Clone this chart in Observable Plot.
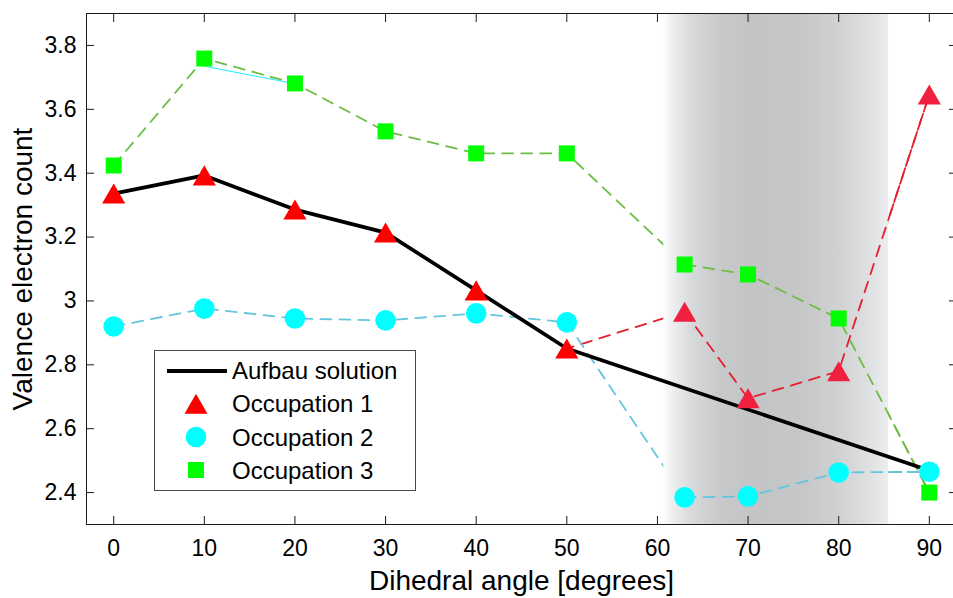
<!DOCTYPE html>
<html>
<head>
<meta charset="utf-8">
<script src="https://cdn.jsdelivr.net/npm/d3@7"></script>
<script src="https://cdn.jsdelivr.net/npm/@observablehq/plot@0.6"></script>
<style>
  html, body { margin: 0; padding: 0; background: white; overflow: hidden; }
  #wrap { position: relative; width: 953px; height: 598px; }
  #legend { position: absolute; left: 154px; top: 350px; width: 260px; height: 139px;
            border: 1px solid #4a4a4a; background: white; }
  #legend svg { display: block; font-family: "Liberation Sans", Arial, sans-serif; }
</style>
</head>
<body>
<div id="wrap"><div id="chart"></div><div id="legend"></div></div>
<script>
// ---- data ----
const angles = [0, 10, 20, 30, 40, 50, 63, 70, 80, 90];
const occupation1 = [3.336, 3.393, 3.286, 3.214, 3.033, 2.851, 2.966, 2.695, 2.780, 3.646];
const occupation2 = [2.920, 2.976, 2.945, 2.939, 2.961, 2.933, 2.385, 2.388, 2.463, 2.465];
const occupation3 = [3.424, 3.759, 3.681, 3.531, 3.462, 3.462, 3.114, 3.083, 2.945, 2.400];
const aufbauAngles = [0, 10, 20, 30, 40, 50, 90];
const aufbauValues = [3.336, 3.393, 3.286, 3.214, 3.033, 2.851, 2.469];
const extraAngles = [10, 20];
const extraValues = [3.735, 3.680];
const shadedBand = [60.7, 85.5];
const xTicks = [0, 10, 20, 30, 40, 50, 60, 70, 80, 90];
const xTickLabels = ["0", "10", "20", "30", "40", "50", "60", "70", "80", "90"];
const yTicks = [2.4, 2.6, 2.8, 3.0, 3.2, 3.4, 3.6, 3.8];
const yTickLabels = ["2.4", "2.6", "2.8", "3", "3.2", "3.4", "3.6", "3.8"];
const seriesNames = ["Aufbau solution", "Occupation 1", "Occupation 2", "Occupation 3"];
const xLabel = "Dihedral angle [degrees]";
const yLabel = "Valence electron count";

// ---- tables built from the arrays ----
const occ1 = angles.map((a, i) => ({angle: a, value: occupation1[i], late: a > 50}));
const occ2 = angles.map((a, i) => ({angle: a, value: occupation2[i], late: a > 50}));
const occ3 = angles.map((a, i) => ({angle: a, value: occupation3[i], late: a > 50}));
const aufbau = aufbauAngles.map((a, i) => ({angle: a, value: aufbauValues[i]}));
const extra = extraAngles.map((a, i) => ({angle: a, value: extraValues[i]}));
const band = [{x1: shadedBand[0], x2: shadedBand[1]}];

const RED = "#ff0000", RED2 = "#f0203e", REDDASH = "#e3202e";
const CYAN = "#00ffff", CYANDASH = "#63c6dc";
const GREEN = "#00ff00", GREENDASH = "#6cbd45";
const AX = "#1a1a1a";
const dash = "11,8";
const FONT = "Liberation Sans, Arial, Helvetica, sans-serif";

const chart = Plot.plot({
  width: 953,
  height: 598,
  marginLeft: 86,
  marginRight: -3,
  marginTop: 13,
  marginBottom: 74,
  x: {domain: [-3, 93]},
  y: {domain: [2.3, 3.9]},
  style: {fontFamily: FONT, background: "white", color: "black"},
  marks: [
    // bottom frame line (hidden by the shaded band)
    Plot.ruleY([2.3], {stroke: AX, strokeWidth: 1}),
    // dashed series, drawn beneath the band
    Plot.line(occ1, {x: "angle", y: "value", stroke: REDDASH, strokeWidth: 1.8, strokeDasharray: dash}),
    Plot.line(occ2, {x: "angle", y: "value", stroke: CYANDASH, strokeWidth: 1.8, strokeDasharray: dash}),
    Plot.line(occ3, {x: "angle", y: "value", stroke: GREENDASH, strokeWidth: 1.8, strokeDasharray: dash}),
    // shaded band
    Plot.rect(band, {x1: "x1", x2: "x2", y1: 2.3, y2: 3.9, fill: "url(#bandGrad)"}),
    // segments drawn above the band
    Plot.line(occ1, {filter: d => d.late, x: "angle", y: "value", stroke: REDDASH, strokeWidth: 1.8, strokeDasharray: dash}),
    Plot.line(occ2, {filter: d => d.late, x: "angle", y: "value", stroke: CYANDASH, strokeWidth: 1.8, strokeDasharray: dash}),
    Plot.line(occ3, {filter: d => d.late, x: "angle", y: "value", stroke: GREENDASH, strokeWidth: 1.8, strokeDasharray: dash}),
    Plot.line(extra, {x: "angle", y: "value", stroke: "#1ee8f8", strokeWidth: 1}),
    Plot.line(aufbau, {x: "angle", y: "value", stroke: "#000", strokeWidth: 3.7}),
    // markers
    Plot.dot(occ3, {x: "angle", y: "value", symbol: "square", r: 9.03, fill: GREEN}),
    Plot.dot(occ2, {x: "angle", y: "value", symbol: "circle", r: 10.3, fill: CYAN}),
    Plot.dot(occ1, {x: "angle", y: "value", symbol: "triangle", r: 8.6, dy: 3.3,
                    fill: d => d.late ? RED2 : RED}),
    // frame lines
    Plot.ruleY([3.9], {stroke: AX, strokeWidth: 1}),
    Plot.ruleX([-3], {stroke: AX, strokeWidth: 1}),
    // inward ticks
    Plot.axisX(xTicks, {anchor: "bottom", tickSize: -8, tickFormat: () => "", label: null, stroke: AX}),
    Plot.axisX(xTicks, {anchor: "top", tickSize: -8, tickFormat: () => "", label: null, stroke: AX}),
    Plot.axisY(yTicks, {anchor: "left", tickSize: -8, tickFormat: () => "", label: null, stroke: AX}),
    Plot.axisY(yTicks, {anchor: "right", tickSize: -8, tickFormat: () => "", label: null, stroke: AX}),
    // tick labels
    Plot.axisX(xTicks, {anchor: "bottom", tickSize: 0, tickPadding: 15, fontSize: 23, label: null,
                        tickFormat: d => xTickLabels[xTicks.indexOf(d)], fill: "black"}),
    Plot.axisY(yTicks, {anchor: "left", tickSize: 0, tickPadding: 10, fontSize: 23, label: null,
                        tickFormat: d => yTickLabels[yTicks.indexOf(d)], fill: "black"}),
    // axis titles
    Plot.text([xLabel], {frameAnchor: "bottom", dy: 57, fontSize: 28, fill: "black", lineAnchor: "middle"}),
    Plot.text([yLabel], {frameAnchor: "left", dx: -63, rotate: -90, fontSize: 28, fill: "black",
                         lineAnchor: "middle", textAnchor: "middle"})
  ]
});

// gradient for the shaded band
const svg = d3.select(chart);
const defs = svg.insert("defs", ":first-child");
const grad = defs.append("linearGradient").attr("id", "bandGrad")
  .attr("x1", "0").attr("x2", "1").attr("y1", "0").attr("y2", "0");
[[0, "#fdfdfd"], [0.04, "#eeeff0"], [0.12, "#d9dadc"], [0.25, "#c8c9cb"], [0.4, "#c3c4c6"],
 [0.62, "#c6c7c9"], [0.78, "#d0d1d3"], [0.9, "#dddee0"], [1, "#ecedee"]]
  .forEach(([o, c]) => grad.append("stop").attr("offset", o).attr("stop-color", c));

document.getElementById("chart").appendChild(chart);

// legend (drawn inside the plot area)
const lg = d3.select("#legend").append("svg").attr("width", 260).attr("height", 139);
lg.append("line").attr("x1", 12).attr("x2", 72).attr("y1", 20).attr("y2", 20)
  .attr("stroke", "#000").attr("stroke-width", 4);
lg.append("path").attr("d", d3.symbol(d3.symbolTriangle, 229)()).attr("transform", "translate(41,56)").attr("fill", RED);
lg.append("circle").attr("cx", 41).attr("cy", 86).attr("r", 10.3).attr("fill", CYAN);
lg.append("rect").attr("x", 33).attr("y", 111).attr("width", 16).attr("height", 16).attr("fill", GREEN);
seriesNames.forEach((n, i) => {
  lg.append("text").attr("x", 77).attr("y", 28 + i * 33.3).attr("font-size", 24).attr("fill", "black").text(n);
});
</script>
</body>
</html>
